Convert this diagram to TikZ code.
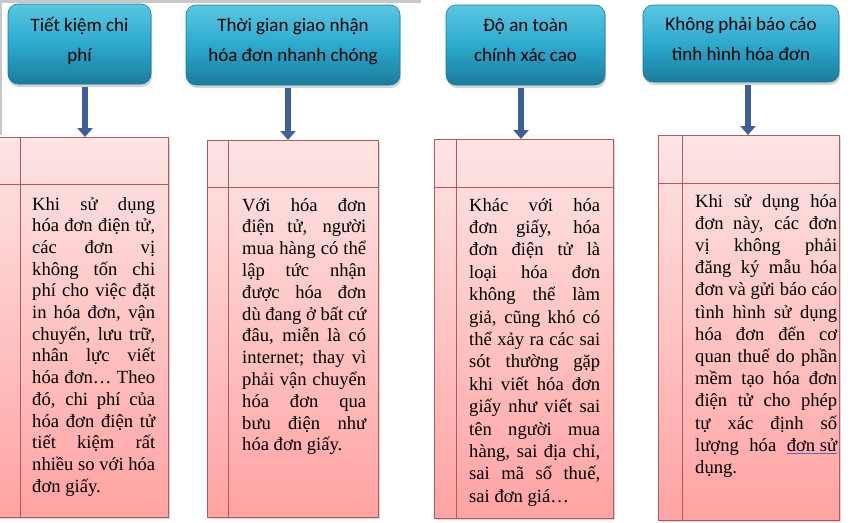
\documentclass[tikz,border=0pt]{standalone}
\usepackage{fontspec}
\setmainfont{Liberation Serif}
\newfontfamily\headfont{Carlito}
\usetikzlibrary{arrows.meta,shadows}
\definecolor{tealhi}{RGB}{90,198,226}
\definecolor{tealmid}{RGB}{44,170,206}
\definecolor{tealdk}{RGB}{26,124,156}
\definecolor{pinktop}{RGB}{253,229,229}
\definecolor{pinkbot}{RGB}{255,163,163}
\definecolor{pinkline}{RGB}{176,88,92}
\definecolor{arrowblue}{RGB}{62,95,153}
\definecolor{barcol}{RGB}{200,200,200}
\definecolor{ulblue}{RGB}{96,96,206}
\newcommand{\jline}[1]{\makebox[\hsize][s]{#1}\\}
\newcommand{\lift}{\rule[-10pt]{0pt}{10pt}}
\tikzset{
  head/.style={rounded corners=10pt, draw=tealdk, line width=.6pt,
    top color=tealhi, bottom color=tealdk, middle color=tealmid,
    align=center, inner sep=2pt, font=\headfont\fontsize{19}{30}\selectfont,
    drop shadow={shadow xshift=1pt, shadow yshift=-3pt, opacity=.35}},
  card/.style={draw=pinkline, line width=.8pt, top color=pinktop, bottom color=pinkbot,
    anchor=north west, inner sep=0pt,
    drop shadow={shadow xshift=2pt, shadow yshift=-2pt, opacity=.3}},
  divider/.style={draw=pinkline, line width=.7pt},
  body/.style={anchor=base west, inner sep=0pt, align=justify, font=\fontsize{18.6}{#1}\selectfont},
  arr/.style={arrowblue, line width=6.5pt, shorten <=3pt, -{Triangle[width=15pt,length=9pt]}}
}
\begin{document}
\begin{tikzpicture}[x=1pt,y=-1pt]
\useasboundingbox (0,0) rectangle (853,522);
\fill[barcol] (0,0) rectangle (421,3);
\fill[barcol] (0,0) rectangle (1.5,135);

\node[head, minimum width=143pt, minimum height=80pt] (h1) at (79.5,44) {Tiết kiệm chi\\phí\lift};
\node[head, minimum width=214pt, minimum height=80pt] (h2) at (293,45) {Thời gian giao nhận\\hóa đơn nhanh chóng\lift};
\node[head, minimum width=159pt, minimum height=80pt] (h3) at (525.5,45) {Độ an toàn\\chính xác cao\lift};
\node[head, minimum width=196pt, minimum height=77pt] (h4) at (741,43.5) {Không phải báo cáo\\tình hình hóa đơn\lift};

\node[card, minimum width=170pt, minimum height=380pt] (b1) at (-2,137) {};
\node[card, minimum width=171pt, minimum height=377pt] (b2) at (207,140) {};
\node[card, minimum width=179pt, minimum height=379pt] (b3) at (434,139) {};
\node[card, minimum width=181pt, minimum height=385pt] (b4) at (658,135) {};
\foreach \i/\dx/\dy in {1/22/47,2/21/47,3/22/48,4/24/48}{
    \draw[divider] ([xshift=\dx pt]b\i.north west) -- ([xshift=\dx pt]b\i.south west);
    \draw[divider] ([yshift=-\dy pt]b\i.north west) -- ([yshift=-\dy pt]b\i.north east);
}

\foreach \i/\x in {1/85,2/288,3/521,4/748}{
    \coordinate (a\i) at (\x,0);
    \draw[arr] (h\i.south -| a\i) -- (b\i.north -| a\i);
}

\node[body=21.7, text width=123pt] (t1) at (32,210) {\jline{Khi sử dụng}\jline{hóa đơn điện tử,}\jline{các đơn vị}\jline{không tốn chi}\jline{phí cho việc đặt}\jline{in hóa đơn, vận}\jline{chuyển, lưu trữ,}\jline{nhân lực viết}\jline{hóa đơn… Theo}\jline{đó, chi phí của}\jline{hóa đơn điện tử}\jline{tiết kiệm rất}\jline{nhiều so với hóa}đơn giấy.};
\node[body=21.8, text width=124pt] (t2) at (242,211) {\jline{Với hóa đơn}\jline{điện tử, người}\jline{mua hàng có thể}\jline{lập tức nhận}\jline{được hóa đơn}\jline{dù đang ở bất cứ}\jline{đâu, miễn là có}\jline{internet; thay vì}\jline{phải vận chuyển}\jline{hóa đơn qua}\jline{bưu điện như}hóa đơn giấy.};
\node[body=22.4, text width=131pt] (t3) at (469,211) {\jline{Khác với hóa}\jline{đơn giấy, hóa}\jline{đơn điện tử là}\jline{loại hóa đơn}\jline{không thể làm}\jline{giả, cũng khó có}\jline{thể xảy ra các sai}\jline{sót thường gặp}\jline{khi viết hóa đơn}\jline{giấy như viết sai}\jline{tên người mua}\jline{hàng, sai địa chỉ,}\jline{sai mã số thuế,}sai đơn giá…};
\node[body=22.2, text width=142pt] (t4) at (695,207) {\jline{Khi sử dụng hóa}\jline{đơn này, các đơn}\jline{vị không phải}\jline{đăng ký mẫu hóa}\jline{đơn và gửi báo cáo}\jline{tình hình sử dụng}\jline{hóa đơn đến cơ}\jline{quan thuế do phần}\jline{mềm tạo hóa đơn}\jline{điện tử cho phép}\jline{tự xác định số}\jline{lượng hóa {\color{ulblue}\underline{\color{black}đơn sử}}}dụng.};
\end{tikzpicture}
\end{document}
